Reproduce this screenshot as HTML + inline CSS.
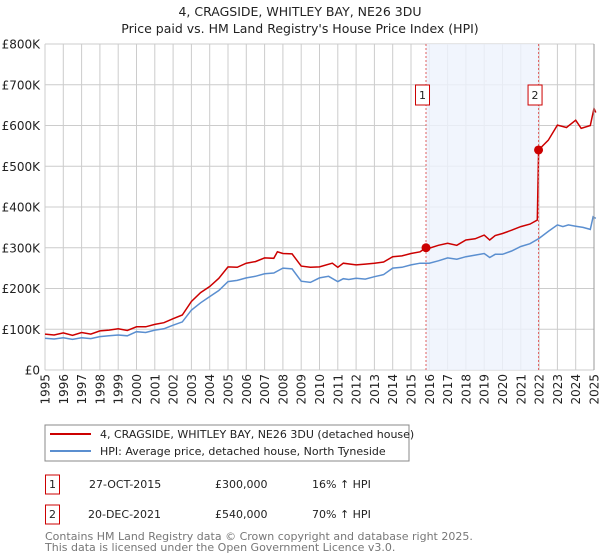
<!DOCTYPE html>
<html><head><meta charset="utf-8">
<style>
body{margin:0;background:#fff;font-family:"Liberation Sans","DejaVu Sans",sans-serif;}
#wrap{position:relative;width:600px;height:560px;overflow:hidden;}
svg text{font-family:"DejaVu Sans","Liberation Sans",sans-serif;}
</style></head><body>
<div id="wrap">
<svg id="chart" width="600" height="560">
<text x="300" y="16" text-anchor="middle" font-size="12.5" fill="#222">4, CRAGSIDE, WHITLEY BAY, NE26 3DU</text>
<text x="300" y="33" text-anchor="middle" font-size="12.5" fill="#222">Price paid vs. HM Land Registry's House Price Index (HPI)</text>
<g id="grid"></g><g id="shade"></g><g id="series"></g><g id="marks"></g>
<line x1="594" y1="44" x2="594" y2="370" stroke="#999" stroke-width="1"/>
<rect x="45" y="425" width="364" height="36" fill="#fff" stroke="#888"/>
<line x1="50" y1="434" x2="91" y2="434" stroke="#cc0000" stroke-width="2"/>
<text x="100" y="438" font-size="11" fill="#222">4, CRAGSIDE, WHITLEY BAY, NE26 3DU (detached house)</text>
<line x1="50" y1="451" x2="91" y2="451" stroke="#5b8fd0" stroke-width="2"/>
<text x="100" y="455" font-size="11" fill="#222">HPI: Average price, detached house, North Tyneside</text>
<g font-size="11" fill="#222">
<rect x="45.5" y="475" width="14" height="19" fill="#fff" stroke="#cc0000"/>
<text x="52.5" y="488" text-anchor="middle">1</text>
<text x="89" y="488">27-OCT-2015</text>
<text x="215" y="488">£300,000</text>
<text x="312" y="488">16% ↑ HPI</text>
<rect x="45.5" y="505" width="14" height="19" fill="#fff" stroke="#cc0000"/>
<text x="52.5" y="518" text-anchor="middle">2</text>
<text x="88" y="518">20-DEC-2021</text>
<text x="215" y="518">£540,000</text>
<text x="312" y="518">70% ↑ HPI</text>
</g>
<text x="45" y="540" font-size="11" fill="#777">Contains HM Land Registry data © Crown copyright and database right 2025.</text>
<text x="45" y="551" font-size="11" fill="#777">This data is licensed under the Open Government Licence v3.0.</text>
</svg>
</div>
<script>
const yTicks=[0,100,200,300,400,500,600,700,800];
const yTickLabels=["£0","£100K","£200K","£300K","£400K","£500K","£600K","£700K","£800K"];
const xYears=[1995,1996,1997,1998,1999,2000,2001,2002,2003,2004,2005,2006,2007,2008,2009,2010,2011,2012,2013,2014,2015,2016,2017,2018,2019,2020,2021,2022,2023,2024,2025];
const hpiT=[1995,1995.5,1996,1996.5,1997,1997.5,1998,1998.5,1999,1999.5,2000,2000.5,2001,2001.5,2002,2002.5,2003,2003.5,2004,2004.5,2005,2005.5,2006,2006.5,2007,2007.5,2008,2008.5,2009,2009.5,2010,2010.5,2011,2011.3,2011.6,2012,2012.5,2013,2013.5,2014,2014.5,2015,2015.5,2016,2016.5,2017,2017.5,2018,2018.5,2019,2019.3,2019.6,2020,2020.5,2021,2021.5,2022,2022.5,2023,2023.3,2023.6,2024,2024.4,2024.8,2024.95,2025.1];
const hpiV=[78,76,79,75,79,77,82,84,86,84,94,92,98,101,110,118,147,165,180,195,217,220,226,230,236,238,250,248,218,215,226,230,217,224,222,225,223,229,234,250,252,258,262,262,268,275,272,278,282,286,276,284,284,292,303,310,323,340,356,352,356,353,350,345,376,372];
const priceT=[1995,1995.5,1996,1996.5,1997,1997.5,1998,1998.5,1999,1999.5,2000,2000.5,2001,2001.5,2002,2002.5,2003,2003.5,2004,2004.5,2005,2005.5,2006,2006.5,2007,2007.5,2007.7,2008,2008.5,2009,2009.5,2010,2010.7,2011,2011.3,2012,2012.5,2013,2013.5,2014,2014.5,2015,2015.5,2015.82,2016,2016.5,2017,2017.5,2018,2018.5,2019,2019.3,2019.6,2020,2020.5,2021,2021.5,2021.9,2021.97,2022.5,2023,2023.5,2024,2024.3,2024.8,2025.0,2025.1];
const priceV=[88,86,91,85,92,88,96,98,101,97,106,106,112,116,126,135,168,190,205,225,253,252,262,266,275,274,290,286,285,255,252,253,262,252,262,258,260,262,265,278,280,286,290,300,299,306,311,306,319,322,331,319,330,335,343,352,358,368,540,564,601,595,613,593,600,642,632];
const sales=[{t:2015.82,v:300,label:"1"},{t:2021.97,v:540,label:"2"}];
const NS="http://www.w3.org/2000/svg";
const X=t=>45+(t-1995)*(594-45)/30;
const Y=v=>370-v*(370-44)/800;
function mk(tag,attrs,parent){const e=document.createElementNS(NS,tag);for(const k in attrs)e.setAttribute(k,attrs[k]);parent.appendChild(e);return e;}
const grid=document.getElementById('grid');
yTicks.forEach((v,i)=>{
 const l=mk('line',{x1:45,x2:594,y1:Y(v),y2:Y(v),stroke:'#cccccc','stroke-width':1},grid);
 
 
 const t=mk('text',{x:40,y:Y(v)+4.5,'text-anchor':'end','font-size':12,fill:'#222'},grid);
 t.textContent=yTickLabels[i];
 
 
});
xYears.forEach(yr=>{
 const l=mk('line',{x1:X(yr),x2:X(yr),y1:44,y2:370,stroke:'#cccccc','stroke-width':1},grid);
 
 
 const t=mk('text',{x:0,y:0,'text-anchor':'end','font-size':12,fill:'#222',transform:`translate(${X(yr)+4.5},374) rotate(-90)`},grid);
 t.textContent=yr;
 
 
});
const sh=document.getElementById('shade');
const r=mk('rect',{x:X(sales[0].t),y:44,width:X(sales[1].t)-X(sales[0].t),height:326,fill:'#eef3fc',opacity:0.8},sh);


const ser=document.getElementById('series');
function path(T,V){return T.map((t,i)=>(i?'L':'M')+X(t).toFixed(1)+','+Y(V[i]).toFixed(1)).join(' ');}
const hp=mk('path',{d:path(hpiT,hpiV),fill:'none',stroke:'#5b8fd0','stroke-width':1.5},ser);


const pp=mk('path',{d:path(priceT,priceV),fill:'none',stroke:'#cc0000','stroke-width':1.5},ser);


const mg=document.getElementById('marks');
sales.forEach(s=>{
 const vl=mk('line',{x1:X(s.t),x2:X(s.t),y1:44,y2:370,stroke:'#e06060','stroke-dasharray':'2,2','stroke-width':1},mg);
 
 
 const c=mk('circle',{cx:X(s.t),cy:Y(s.v),r:4.5,fill:'#cc0000'},mg);
 
 
 const b=mk('rect',{x:X(s.t)-10.5,y:85,width:14,height:20,fill:'#fff',stroke:'#cc0000'},mg);
 
 
 const t=mk('text',{x:X(s.t)-3.5,y:99,'text-anchor':'middle','font-size':11,fill:'#222'},mg);
 t.textContent=s.label;
 
 
});
</script>
</body></html>
